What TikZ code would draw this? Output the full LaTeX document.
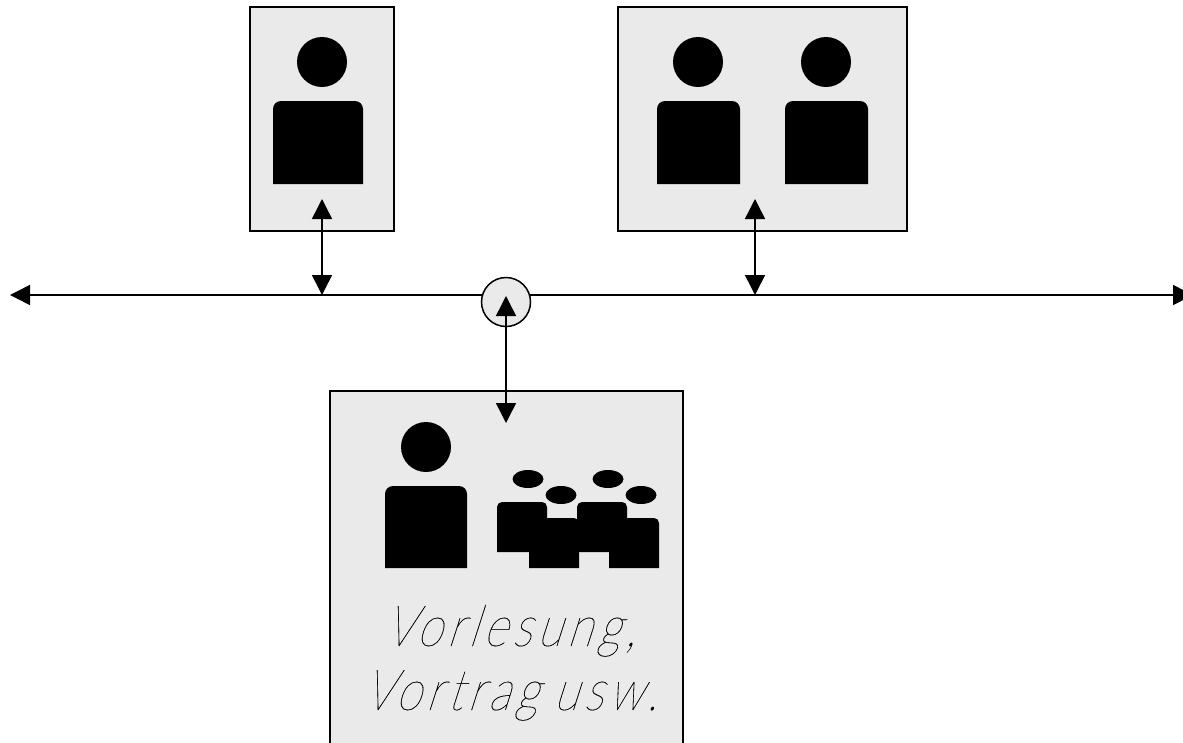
\documentclass[tikz,border=0pt]{standalone}
\usepackage{fontspec}
\usetikzlibrary{arrows.meta}
\newfontfamily\thinfont[FakeSlant=0.32,FakeStretch=0.815,FakeBold=0.15,LetterSpace=9,WordSpace=0.8]{Lato Hairline}
\definecolor{panelgrey}{RGB}{234,234,234}
\tikzset{
  panel/.style={draw=black,line width=1.5pt,fill=panelgrey,rectangle,inner sep=0pt,outer sep=0pt,anchor=north west},
  head/.style={fill=black,draw=none,circle,inner sep=0pt,minimum size=50pt},
  smallhead/.style={fill=black,draw=none},
  link/.style={line width=1.5pt,{Triangle[length=20pt,width=20pt]}-{Triangle[length=20pt,width=20pt]}},
  textline/.style={font=\thinfont\fontsize{57}{64}\selectfont,inner sep=0pt,anchor=base west},
}
\begin{document}
\begin{tikzpicture}[x=1pt,y=-1pt]
\useasboundingbox (0,0) rectangle (1183,742);
\clip (0,0) rectangle (1183,742);
% panels
\node[panel,minimum width=144pt,minimum height=224pt] (boxa) at (250,7) {};
\node[panel,minimum width=289pt,minimum height=224pt] (boxb) at (618,7) {};
\node[panel,minimum width=353pt,minimum height=380pt] (boxc) at (330,391) {};
% persons
\node[head] (heada) at (322,62) {};
\fill[black,rounded corners=8pt] (273,184) -- (273,101) -- (363,101) [sharp corners] -- (363,184) -- cycle;
\node[head] (headb) at (698,62) {};
\fill[black,rounded corners=8pt] (657,184) -- (657,101) -- (740,101) [sharp corners] -- (740,184) -- cycle;
\node[head] (headc) at (826,62) {};
\fill[black,rounded corners=8pt] (785,184) -- (785,101) -- (868,101) [sharp corners] -- (868,184) -- cycle;
\node[head] (headd) at (426,447) {};
\fill[black,rounded corners=8pt] (385,568) -- (385,486) -- (467,486) [sharp corners] -- (467,568) -- cycle;
% audience
\foreach \cx/\cy in {528/479,561/495,608/479,641/495}{
  \fill[smallhead] (\cx,\cy) ellipse [x radius=15.5pt,y radius=9pt];
}
\foreach \bx/\by in {497/502,529/518,577/502,609/518}{
  \fill[black,rounded corners=5pt] (\bx,\by+50) -- (\bx,\by) -- (\bx+50,\by) [sharp corners] -- (\bx+50,\by+50) -- cycle;
}
% labels
\node[textline] (line1) at (384,646) {Vorlesung,};
\node[textline] (line2) at (363,710) {Vortrag usw.};
% bus
\coordinate (busl) at (10,295);
\coordinate (busr) at (1193,295);
\coordinate (tapa) at (322,295);
\coordinate (tapb) at (755,295);
\coordinate (portatop) at (322,199);
\coordinate (portbtop) at (755,199);
\coordinate (tapc) at (506,296);
\coordinate (portc) at (506,423);
\draw[link] (busl) -- (busr);
\node[circle,draw=black,line width=1.5pt,fill=panelgrey,minimum size=49pt,inner sep=0pt] (hub) at (506,302) {};
\draw[link] (portatop) -- (tapa);
\draw[link] (portbtop) -- (tapb);
\draw[link] (tapc) -- (portc);
\end{tikzpicture}
\end{document}
